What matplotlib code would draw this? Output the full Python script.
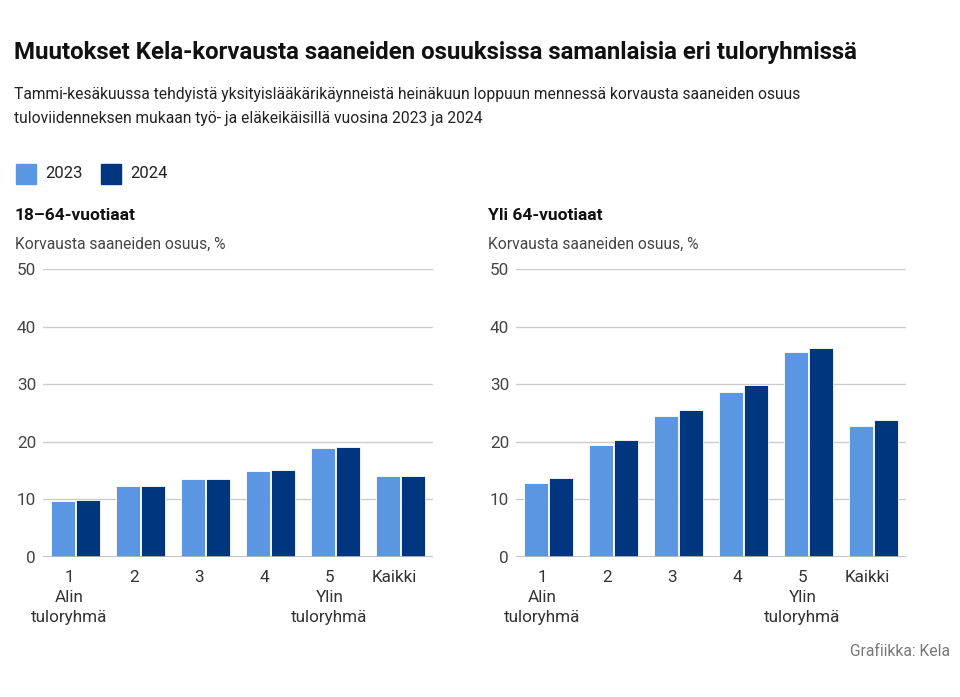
import matplotlib.pyplot as plt
import matplotlib.transforms as mtransforms
import numpy as np

plt.rcParams['font.family'] = ['Roboto', 'DejaVu Sans']

categories = ['1\nAlin\ntuloryhmä', '2', '3', '4', '5\nYlin\ntuloryhmä', 'Kaikki']
years = ['2023', '2024']
colors = ['#5b96e2', '#003580']

# 18-64-vuotiaat
working_2023 = [9.7, 12.3, 13.5, 14.9, 19.0, 14.0]
working_2024 = [9.9, 12.4, 13.5, 15.1, 19.1, 14.1]
# Yli 64-vuotiaat
retired_2023 = [12.9, 19.5, 24.4, 28.7, 35.6, 22.8]
retired_2024 = [13.7, 20.3, 25.5, 29.9, 36.2, 23.7]

panels = [
    ('18–64-vuotiaat', working_2023, working_2024),
    ('Yli 64-vuotiaat', retired_2023, retired_2024),
]

W, H = 960, 697
fig = plt.figure(figsize=(W / 100, H / 100), dpi=100)
renderer = fig.canvas.get_renderer()


def fit(t, width_px):
    # shrink/grow a text so it spans the same width as in the reference
    w = t.get_window_extent(renderer).width
    t.set_fontsize(t.get_fontsize() * width_px / w)


t = fig.text(14 / W, 1 - 52 / H, 'Muutokset Kela-korvausta saaneiden osuuksissa samanlaisia eri tuloryhmissä',
             fontsize=16, fontweight='bold', va='center', ha='left', color='#111111')
fit(t, 846)
t = fig.text(14 / W, 1 - 95 / H, 'Tammi-kesäkuussa tehdyistä yksityislääkärikäynneistä heinäkuun loppuun mennessä korvausta saaneiden osuus',
             fontsize=11, va='center', ha='left', color='#222222')
fit(t, 781)
fs_sub = t.get_fontsize()
fig.text(14 / W, 1 - 118 / H, 'tuloviidenneksen mukaan työ- ja eläkeikäisillä vuosina 2023 ja 2024',
         fontsize=fs_sub, va='center', ha='left', color='#222222')

# legend
for i, (yr, c) in enumerate(zip(years, colors)):
    x0 = 16 + i * 85
    fig.patches.append(plt.Rectangle((x0 / W, 1 - 184 / H), 20 / W, 20 / H,
                                     transform=fig.transFigure, color=c))
    fig.text((x0 + 29) / W, 1 - 174 / H, yr, fontsize=12, va='center', ha='left', color='#222222')

x = np.arange(len(categories))
bw = 0.37
lefts = [43, 516]
shift = mtransforms.ScaledTranslation(-6 / 100, 0, fig.dpi_scale_trans)
for (title, v23, v24), left in zip(panels, lefts):
    ax = fig.add_axes([left / W, 1 - 557 / H, 390 / W, 288 / H])
    ax.bar(x - bw / 2 - 0.01, v23, bw, color=colors[0], edgecolor='white', linewidth=0.6, zorder=3)
    ax.bar(x + bw / 2 + 0.01, v24, bw, color=colors[1], edgecolor='white', linewidth=0.6, zorder=3)
    ax.set_xlim(-0.5, 5.5)
    ax.set_ylim(0, 50)
    ax.set_yticks([0, 10, 20, 30, 40, 50])
    ax.grid(axis='y', color='#cccccc', linewidth=1, zorder=0)
    ax.axhline(0, color='#bbbbbb', linewidth=1.2, zorder=4)
    for s in ax.spines.values():
        s.set_visible(False)
    ax.tick_params(length=0, labelsize=12.3, labelcolor='#333333')
    ax.tick_params(axis='y', pad=5)
    ax.tick_params(axis='x', pad=9)
    ax.set_xticks(x)
    ax.set_xticklabels(categories, linespacing=1.45, va='top')
    for lbl in ax.get_xticklabels():
        lbl.set_transform(lbl.get_transform() + shift)
    for lbl in ax.get_yticklabels():
        lbl.set_color('#444444')
    fig.text((left - 28) / W, 1 - 215 / H, title, fontsize=12.5, fontweight='bold',
             va='center', ha='left', color='#111111')
    fig.text((left - 28) / W, 1 - 244 / H, 'Korvausta saaneiden osuus, %', fontsize=fs_sub,
             va='center', ha='left', color='#444444')

fig.text(950 / W, 1 - 652 / H, 'Grafiikka: Kela', fontsize=fs_sub, va='center', ha='right', color='#777777')

fig.savefig('out.png', dpi=100)
